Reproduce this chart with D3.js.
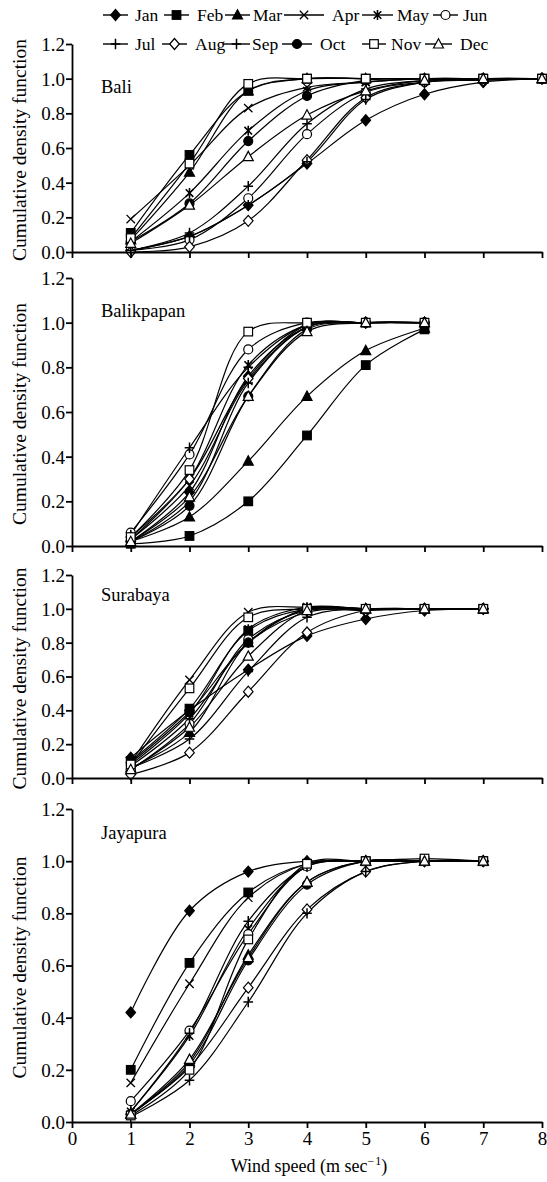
<!DOCTYPE html>
<html><head><meta charset="utf-8">
<script src="https://cdn.jsdelivr.net/npm/d3@7"></script>
<style>body{margin:0;background:#fff}svg{display:block}svg text{font-family:"Liberation Serif","DejaVu Serif",serif !important;fill:#000}</style>
</head><body><svg id="c" width="547" height="1182"></svg>
<script>
const months = ["Jan","Feb","Mar","Apr","May","Jun","Jul","Aug","Sep","Oct","Nov","Dec"];
const stations = ["Bali","Balikpapan","Surabaya","Jayapura"];
const xTicks = [0,1,2,3,4,5,6,7,8];
const yTicks = [0,0.2,0.4,0.6,0.8,1.0,1.2];

const speedsBali = [1,2,3,4,5,6,7,8];
const baliCdf = [
  [0.01,0.09,0.27,0.51,0.76,0.91,0.98,1.00],
  [0.11,0.56,0.93,1.00,1.00,1.00,1.00,1.00],
  [0.07,0.46,0.93,1.00,1.00,1.00,1.00,1.00],
  [0.19,0.50,0.83,0.95,0.98,1.00,1.00,1.00],
  [0.06,0.34,0.70,0.93,0.98,1.00,1.00,1.00],
  [0.01,0.07,0.31,0.68,0.92,0.98,1.00,1.00],
  [0.01,0.11,0.38,0.74,0.94,0.99,1.00,1.00],
  [0.00,0.03,0.18,0.53,0.89,0.98,0.99,1.00],
  [0.01,0.09,0.27,0.52,0.88,0.98,1.00,1.00],
  [0.06,0.28,0.64,0.90,0.99,1.00,1.00,1.00],
  [0.08,0.51,0.97,1.00,1.00,1.00,1.00,1.00],
  [0.05,0.27,0.55,0.79,0.93,0.99,1.00,1.00]
];
const speedsBalikpapan = [1,2,3,4,5,6];
const balikpapanCdf = [
  [0.02,0.24,0.76,0.98,1.00,1.00],
  [0.01,0.045,0.20,0.495,0.81,0.97],
  [0.02,0.13,0.38,0.67,0.875,0.975],
  [0.03,0.27,0.74,0.98,1.00,1.00],
  [0.03,0.30,0.81,0.99,1.00,1.00],
  [0.06,0.41,0.88,1.00,1.00,1.00],
  [0.05,0.44,0.80,0.99,1.00,1.00],
  [0.04,0.30,0.75,0.99,1.00,1.00],
  [0.02,0.20,0.73,0.98,1.00,1.00],
  [0.02,0.18,0.67,0.97,1.00,1.00],
  [0.04,0.34,0.96,1.00,1.00,1.00],
  [0.02,0.22,0.67,0.96,1.00,1.00]
];
const speedsSurabaya = [1,2,3,4,5,6,7];
const surabayaCdf = [
  [0.12,0.40,0.64,0.84,0.94,0.99,1.00],
  [0.10,0.41,0.87,1.00,1.00,1.00,1.00],
  [0.06,0.27,0.80,1.00,1.00,1.00,1.00],
  [0.09,0.58,0.98,1.01,1.00,1.00,1.00],
  [0.08,0.38,0.88,1.01,1.00,1.00,1.00],
  [0.05,0.32,0.82,0.99,0.99,1.00,1.00],
  [0.07,0.35,0.80,0.98,1.00,1.00,1.00],
  [0.02,0.15,0.51,0.86,0.99,1.00,1.00],
  [0.06,0.23,0.63,0.95,1.00,1.00,1.00],
  [0.09,0.39,0.80,1.00,1.00,1.00,1.00],
  [0.08,0.53,0.95,1.00,1.00,1.00,1.00],
  [0.05,0.30,0.72,0.99,1.00,1.00,1.00]
];
const speedsJayapura = [1,2,3,4,5,6,7];
const jayapuraCdf = [
  [0.42,0.81,0.96,1.00,1.00,1.00,1.00],
  [0.20,0.61,0.88,0.99,1.00,1.00,1.00],
  [0.03,0.23,0.64,0.92,1.00,1.00,1.00],
  [0.15,0.53,0.86,0.99,1.00,1.00,1.00],
  [0.04,0.33,0.74,0.98,1.00,1.00,1.00],
  [0.08,0.35,0.72,0.98,1.00,1.00,1.00],
  [0.04,0.34,0.77,0.98,1.00,1.00,1.00],
  [0.03,0.21,0.515,0.815,0.96,1.00,1.00],
  [0.02,0.16,0.46,0.80,0.96,1.00,1.00],
  [0.03,0.22,0.62,0.91,1.00,1.00,1.00],
  [0.025,0.20,0.70,0.99,1.00,1.01,1.00],
  [0.03,0.24,0.63,0.92,1.00,1.00,1.00]
];
const speedsAll = [speedsBali,speedsBalikpapan,speedsSurabaya,speedsJayapura];
const cdfAll = [baliCdf,balikpapanCdf,surabayaCdf,jayapuraCdf];

// ---- style / layout ----
const markerShapes = ["diamondF","squareF","triangleF","cross","star","circleO","plus","diamondO","plus","circleF","squareO","triangleO"];
const panelTop = [44,278,575,809];
const panelBottom = [252,546,778,1122];
const X0 = 72, X1 = 542;
const TICKFONT = 19;

const svg = d3.select("#c");
const x = d3.scaleLinear().domain([0,8]).range([X0,X1]);

function marker(g, shape, cx, cy){
  const s = g.append("g").attr("transform",`translate(${cx},${cy})`);
  const st = (el,fill)=>el.attr("fill",fill).attr("stroke","#000").attr("stroke-width",1.2);
  switch(shape){
    case "diamondF": st(s.append("path").attr("d","M0,-5.5L4.8,0L0,5.5L-4.8,0Z"),"#000"); break;
    case "diamondO": st(s.append("path").attr("d","M0,-5.5L4.8,0L0,5.5L-4.8,0Z"),"#fff"); break;
    case "squareF": st(s.append("rect").attr("x",-4.3).attr("y",-4.3).attr("width",8.6).attr("height",8.6),"#000"); break;
    case "squareO": st(s.append("rect").attr("x",-4.3).attr("y",-4.3).attr("width",8.6).attr("height",8.6),"#fff"); break;
    case "triangleF": st(s.append("path").attr("d","M0,-5.3L5,4L-5,4Z"),"#000"); break;
    case "triangleO": st(s.append("path").attr("d","M0,-5.3L5,4L-5,4Z"),"#fff"); break;
    case "circleF": st(s.append("circle").attr("r",4.5),"#000"); break;
    case "circleO": st(s.append("circle").attr("r",4.5),"#fff"); break;
    case "cross": st(s.append("path").attr("d","M-4.2,-4.2L4.2,4.2M-4.2,4.2L4.2,-4.2"),"none").attr("stroke-width",1.3); break;
    case "star": st(s.append("path").attr("d","M-3.8,-3.8L3.8,3.8M-3.8,3.8L3.8,-3.8M0,-5L0,5"),"none").attr("stroke-width",1.6); break;
    case "plus": st(s.append("path").attr("d","M-4.8,0L4.8,0M0,-5.2L0,5.2"),"none").attr("stroke-width",1.5); break;
  }
}

const xAxisGen = d3.axisBottom(x).tickValues(xTicks).tickSize(6).tickSizeOuter(0);

stations.forEach((name,pi)=>{
  const y = d3.scaleLinear().domain([0,1.2]).range([panelBottom[pi],panelTop[pi]]);
  const g = svg.append("g");
  const speeds = speedsAll[pi], cdf = cdfAll[pi];
  const line = d3.line().x(d=>x(d[0])).y(d=>y(d[1])).curve(d3.curveCatmullRom.alpha(0.5));
  cdf.forEach((vals,mi)=>{
    g.append("path").datum(speeds.map((s,i)=>[s,vals[i]]))
      .attr("d",line).attr("fill","none").attr("stroke","#000").attr("stroke-width",1.2);
  });
  cdf.forEach((vals,mi)=>{
    speeds.forEach((s,i)=>marker(g, markerShapes[mi], x(s), y(vals[i])));
  });
  // axes
  const ya = g.append("g").attr("transform",`translate(${X0},0)`)
    .call(d3.axisLeft(y).tickValues(yTicks).tickFormat(d3.format(".1f")).tickSize(6).tickSizeOuter(0));
  ya.attr("font-family",null);
  ya.selectAll("text").attr("font-size",TICKFONT).attr("x",-7).attr("dy","0.34em");
  const xa = g.append("g").attr("transform",`translate(0,${panelBottom[pi]})`).call(xAxisGen);
  xa.attr("font-family",null);
  xa.selectAll("text").attr("font-size",TICKFONT).attr("y",9).attr("dy","0.75em");
  if(pi<3) xa.selectAll("text").remove();
  [ya,xa].forEach(a=>{a.selectAll("path,line").attr("stroke","#000").attr("stroke-width",1.8);});
  // station label
  g.append("text").attr("x",101).attr("y",[93,317,601,839][pi]).attr("font-size",18.5).text(name);
  // y title
  const cy = (panelTop[pi]+panelBottom[pi])/2 + 2;
  g.append("text").attr("transform",`translate(26,${cy}) rotate(-90)`).attr("text-anchor","middle")
    .attr("font-size",19.5).text("Cumulative density function");
});

// x title
const xt = svg.append("text").attr("x",309).attr("y",1172).attr("text-anchor","middle").attr("font-size",18);
xt.append("tspan").text("Wind speed (m sec");
xt.append("tspan").attr("dy",-7).attr("font-size",12).text("\u2212\u200a1");
xt.append("tspan").attr("dy",7).text(")");

// legend
const legLine0 = [103,164,225,284,362,433, 103,162,223,282,362,425];
const legLine1 = [128,189,250,324,393,458, 128,187,250,312,386,452];
const legText  = [135,197,253,332,397,463, 135,195,252,320,391,460];
const legRowY = [15,44];
const lg = svg.append("g");
months.forEach((m,i)=>{
  const yy = legRowY[Math.floor(i/6)];
  lg.append("line").attr("x1",legLine0[i]).attr("x2",legLine1[i]).attr("y1",yy).attr("y2",yy).attr("stroke","#000").attr("stroke-width",1.4);
  marker(lg, markerShapes[i], (legLine0[i]+legLine1[i])/2, yy);
  lg.append("text").attr("x",legText[i]).attr("y",yy+6).attr("font-size",17.5).text(m);
});
</script></body></html>
